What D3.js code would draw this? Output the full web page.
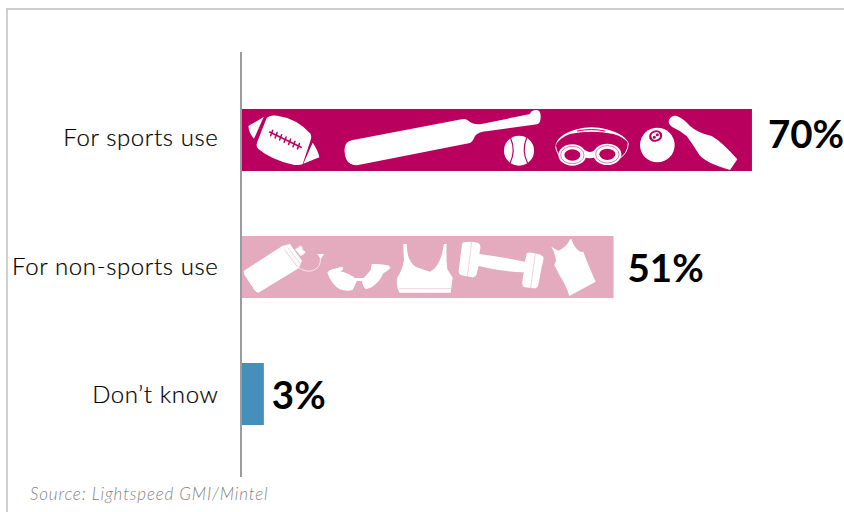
<!DOCTYPE html>
<html>
<head>
<meta charset="utf-8">
<script src="https://cdn.jsdelivr.net/npm/d3@7/dist/d3.min.js"></script>
<style>
html,body{margin:0;padding:0;background:#fff;overflow:hidden}
svg{display:block}
</style>
</head>
<body>
<svg id="chart" width="844" height="512"></svg>
<script>
const categories = ["For sports use", "For non-sports use", "Don\u2019t know"];
const shares = [70, 51, 3];
const barColors = ["#b9005f", "#e3abbd", "#458fbb"];
const sourceNote = "Source: Lightspeed GMI/Mintel";

const svg = d3.select("#chart");
const fontFamily = "Lato, 'Open Sans', sans-serif";

const x = d3.scaleLinear().domain([0, 100]).range([242, 970.5]);
const y = d3.scaleBand().domain(categories).range([76.5, 457.5])
  .paddingInner(0.512).paddingOuter(0.256);

// Hand-placed label offsets, per row
const categoryNudge = [-2, 0, 1];
const valueGap = [16, 14, 8];
const valueDrop = [8, 15, 15];

// Slide frame: darker top rule, lighter left rule
svg.append("line").attr("x1", 6).attr("x2", 844).attr("y1", 9).attr("y2", 9)
  .attr("stroke", "#a0a0a0").attr("stroke-width", 1.2);
svg.append("line").attr("x1", 7).attr("x2", 7).attr("y1", 9).attr("y2", 512)
  .attr("stroke", "#c4c4c4").attr("stroke-width", 1.6);

// Bars
svg.selectAll("rect.bar").data(categories).join("rect")
  .attr("class", "bar")
  .attr("x", x(0))
  .attr("y", d => y(d))
  .attr("width", (d, i) => x(shares[i]) - x(0))
  .attr("height", y.bandwidth())
  .attr("fill", (d, i) => barColors[i]);

// Category axis
const axis = svg.append("g").attr("transform", `translate(${x(0) - 23.5},0)`)
  .call(d3.axisLeft(y).tickSize(0).tickPadding(0));
axis.select(".domain").remove();
axis.selectAll("text")
  .attr("transform", (d, i) => `translate(0,${categoryNudge[i]})`)
  .attr("font-family", fontFamily)
  .attr("font-size", 24)
  .attr("font-weight", 300)
  .attr("letter-spacing", 0.62)
  .attr("fill", "#000")
  .attr("stroke", "#000")
  .attr("stroke-width", 0.2);
svg.append("line").attr("x1", 241).attr("x2", 241).attr("y1", 52).attr("y2", 477)
  .attr("stroke", "#999ca0").attr("stroke-width", 2);

// Value labels
svg.selectAll("text.value").data(categories).join("text")
  .attr("class", "value")
  .attr("x", (d, i) => x(shares[i]) + valueGap[i])
  .attr("y", (d, i) => y(d) + y.bandwidth() / 2 + valueDrop[i])
  .attr("font-family", fontFamily)
  .attr("font-weight", 700)
  .attr("font-size", 38.5)
  .attr("fill", "#000")
  .text((d, i) => shares[i] + "%");

// Source line
svg.append("text").attr("x", 30).attr("y", 500)
  .attr("font-family", fontFamily)
  .attr("font-style", "italic")
  .attr("font-weight", 300)
  .attr("font-size", 17)
  .attr("letter-spacing", 0.85)
  .attr("fill", "#858585")
  .text(sourceNote);

// Pictograms inside the two wider bars, drawn at triple scale
function iconLayer(category, dx, dy, seam) {
  const g = svg.append("g")
    .attr("transform", `translate(${x(0) + dx},${y(category) + dy}) scale(${1 / 3})`);
  return {
    fill: d => g.append("path").attr("d", d).attr("fill", "#fff"),
    cut: (d, w) => g.append("path").attr("d", d).attr("fill", "none")
      .attr("stroke", seam).attr("stroke-width", w).attr("stroke-linecap", "round"),
    line: (d, w) => g.append("path").attr("d", d).attr("fill", "none")
      .attr("stroke", "#fff").attr("stroke-width", w).attr("stroke-linecap", "round"),
    dot: (cx, cy, r, fill) => g.append("circle").attr("cx", cx).attr("cy", cy).attr("r", r).attr("fill", fill || "#fff"),
    oval: (cx, cy, rx, ry, fill, turn) => g.append("ellipse").attr("rx", rx).attr("ry", ry).attr("fill", fill || "#fff")
      .attr("transform", `translate(${cx},${cy}) rotate(${turn || 0})`)
  };
}

const dark = barColors[0], light = barColors[1];

// Football and cricket bat
const a = iconLayer(categories[0], -2, -9, dark);
a.fill("M25,78 L71,51 L42,116 Q27,100 25,78Z");
a.fill("M218,128 Q234,150 238,172 L190,191Z");
a.fill("M80,54 Q90,44 112,47 Q170,55 210,100 Q216,108 212,120 L188,192 Q180,197 160,194 Q95,180 54,146 Q47,138 52,125Z");
a.cut("M89,96 L183,142", 5);
[0, 1, 2, 3, 4, 5, 6].forEach(k => {
  const cx = 95 + k * 13.4, cy = 99 + k * 6.6;
  a.cut(`M${cx + 3},${cy - 8} L${cx - 3},${cy + 8}`, 4.5);
});
a.cut("M25,68 L238,172", 0.7).attr("stroke", "#e39bc0").attr("stroke-dasharray", "3 3");
a.fill("M335,121 L665,58 Q678,55 685,62 Q700,75 725,72 L870,42 Q873,30 890,30 Q902,30 902,50 Q902,72 890,73 Q880,75 875,75 L745,93 Q715,95 705,108 Q698,125 690,129 L355,195 Q330,198 320,180 Q312,165 314,145 Q316,125 335,121Z");

// Ball, goggles, eight ball and skittle
const b = iconLayer(categories[0], 248, -9, dark);
b.dot(87, 152, 45);
b.cut("M62,115 Q78,152 60,190", 3.5);
b.cut("M110,113 Q94,152 113,190", 3.5);
// goggle strap
b.fill("M196,140 Q200,105 260,88 Q305,76 350,88 Q410,105 416,132 Q405,112 370,102 Q305,88 240,102 Q205,114 196,140Z");
b.cut("M262,93 Q305,84 345,93", 3);
b.line("M197,140 Q200,165 222,182", 3);
b.line("M415,130 Q414,160 388,176", 3);
// goggle frames with lenses
b.oval(247, 165, 42, 32, "#fff");
b.oval(352, 163, 42, 32, "#fff");
b.fill("M285,150 Q300,162 314,150 L318,170 Q300,178 284,172Z");
b.oval(247, 165, 35, 26, "none").attr("stroke", dark).attr("stroke-width", 1.5);
b.oval(352, 163, 35, 26, "none").attr("stroke", dark).attr("stroke-width", 1.5);
b.oval(247, 165, 24, 17, dark);
b.oval(352, 163, 24, 17, dark);
// eight ball
b.dot(502, 135, 52);
b.oval(497, 108, 20, 17, dark, -20);
b.oval(497, 108, 13, 11, "#fff", -20);
b.dot(493, 112, 4.5, dark);
b.dot(502, 104, 4.5, dark);
b.fill("M537,60 Q545,45 560,48 Q580,55 600,78 Q625,100 665,108 Q695,125 742,178 L720,210 Q650,190 628,165 Q610,135 590,108 Q570,92 548,82 Q532,72 537,60Z");

// Bottle, glasses and sports top
const c = iconLayer(categories[1], -2, -6, light);
c.fill("M12,122 L128,47 L176,115 L55,188 Q45,186 40,175 L14,136 Q10,128 12,122Z");
c.fill("M128,47 L150,42 L186,92 L176,115Z");
c.fill("M165,58 L175,52 L180,47 L187,50 L188,60 L197,65 L192,72 L182,78Z");
c.line("M176,112 Q195,128 218,122 Q245,112 241,82", 2);
c.fill("M232,72 L252,72 L242,88Z");
c.cut("M135,62 L172,110", 1.5);
c.cut("M145,55 L180,100", 1.5);
// sunglasses
c.fill("M262,128 Q268,118 285,116 L305,110 Q312,112 308,120 L300,124 Q330,130 352,150 L338,180 Q320,185 300,178 Q275,165 262,128Z");
c.fill("M365,150 Q385,130 392,120 L395,102 L415,102 L445,106 L452,113 Q440,125 430,130 Q420,155 395,172 L378,178 Q368,170 365,150Z");
c.fill("M345,144 L372,144 L372,153 L345,153Z");
// crop top, left half
c.fill("M471,145 Q488,118 492,90 Q490,60 490,42 L500,42 Q500,95 530,112 L570,125 L570,188 L478,188 Q468,170 471,145Z");
c.cut("M480,176 L570,176", 1.5);

// Crop top right half, dumbbell and vest
const d = iconLayer(categories[1], 188, -6, light);
d.fill("M0,125 Q28,112 38,62 L42,42 L50,42 Q48,90 52,118 L68,143 L62,188 L0,188Z");
d.cut("M0,176 L62,176", 1.5);
d.fill("M100,37 Q120,33 145,39 Q152,42 151,55 L148,72 Q210,80 285,95 L290,70 Q295,66 305,68 Q330,70 340,80 Q342,90 335,110 L325,165 Q322,176 310,175 L285,172 Q275,170 277,155 L281,127 Q210,125 146,108 L140,133 Q136,143 125,142 L95,136 Q85,133 86,122 L95,50 Q95,40 100,37Z");
d.cut("M125,36 L112,140", 1.5);
d.cut("M316,70 L302,174", 1.5);
d.fill("M364,50 L385,62 Q410,52 420,28 L425,28 Q430,52 450,65 L460,65 Q470,95 497,155 L418,198 Q408,165 388,135 L373,105 L378,92 Q376,70 364,50Z");
</script>
</body>
</html>
